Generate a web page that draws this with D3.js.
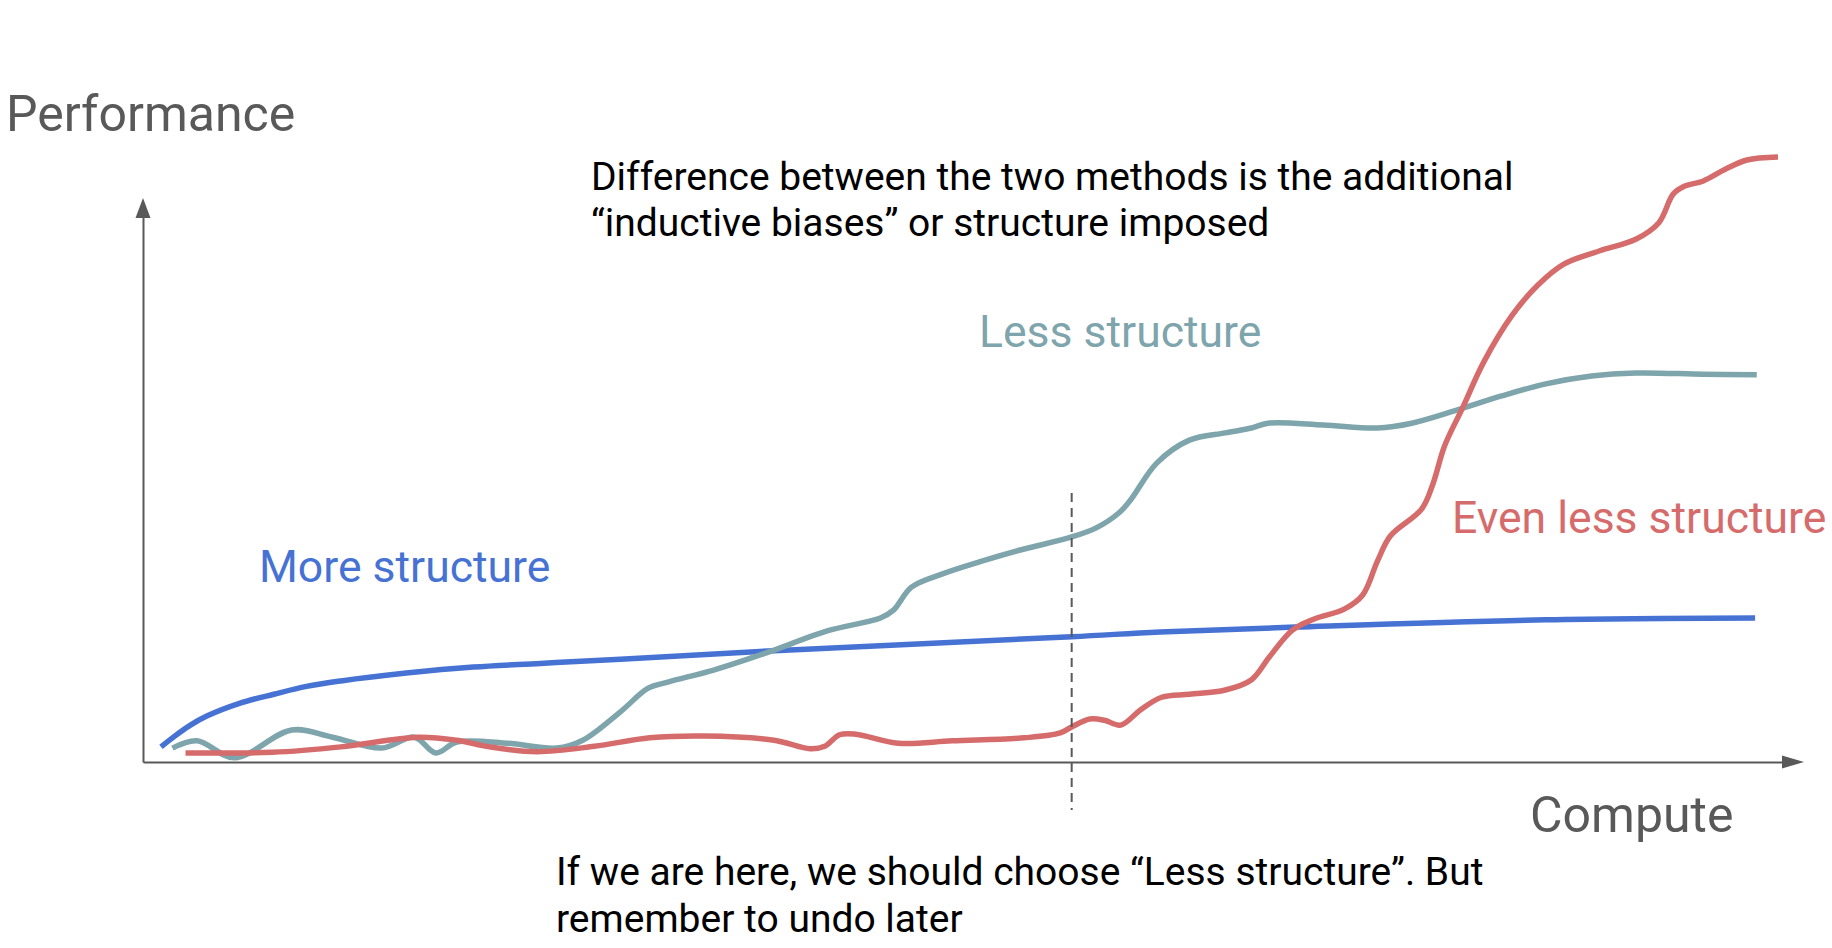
<!DOCTYPE html>
<html lang="en">
  <head>
    <meta charset="utf-8">
    <title>Structure vs compute</title>
    <style>
      body { margin: 0; background: #fff; }
      svg text { font-family: Roboto, "Noto Sans", sans-serif; }
    </style>
    <script src="https://d3js.org/d3.v7.min.js"></script>
  </head>
  <body>

    <div id="viz"></div>

    <script>

    // compute (x, 0-100) vs performance (y, 0-100)
    var moreStructure = [
      [1.1, 2.5], [1.9, 4.2], [2.9, 6.1], [3.9, 7.6], [5.9, 9.7], [8.0, 11.2],
      [10.0, 12.5], [12.1, 13.4], [16.1, 14.7], [20.2, 15.7], [24.3, 16.3],
      [29.2, 17.0], [38.6, 18.4], [56.8, 20.7], [62.2, 21.5], [70.5, 22.3],
      [85.8, 23.5], [98.6, 23.8]
    ];

    var lessStructure = [
      [1.8, 2.3], [3.3, 3.5], [5.6, 0.7], [9.1, 5.3], [11.6, 4.1], [14.6, 2.3],
      [16.6, 4.1], [17.9, 1.5], [19.2, 3.3], [22.3, 3.1], [25.3, 2.3],
      [26.9, 3.6], [29.2, 8.3], [30.9, 12.2], [32.1, 13.2], [34.9, 15.2], [37.2, 17.2],
      [38.6, 18.5], [41.9, 21.7], [45.1, 23.8], [45.9, 25.1], [47.0, 28.9], [48.9, 31.1],
      [51.3, 33.2], [53.6, 35.0], [56.8, 37.2], [58.3, 38.7], [59.7, 41.2], [60.4, 43.3],
      [62.0, 49.4], [64.0, 53.2], [66.2, 54.4], [67.8, 55.2], [68.8, 56.0], [72.2, 55.7],
      [75.5, 55.2], [77.6, 56.0], [80.4, 58.2], [83.1, 60.5], [85.8, 62.5], [88.6, 63.8],
      [91.3, 64.3], [95.4, 64.1], [98.7, 64.0]
    ];

    var evenLessStructure = [
      [2.6, 1.5], [7.9, 1.6], [12.1, 2.5], [16.8, 4.1], [19.2, 3.6],
      [21.2, 2.5], [24.1, 1.7], [27.6, 2.6], [31.0, 4.0], [34.3, 4.3], [38.6, 3.6],
      [40.8, 2.2], [41.7, 2.6], [42.6, 4.5], [43.6, 4.6], [46.2, 3.1], [49.5, 3.5],
      [53.9, 4.0], [56.1, 4.8], [56.8, 5.8], [57.9, 7.1], [58.8, 6.9], [59.8, 6.1],
      [61.0, 8.6], [62.3, 10.7], [64.0, 11.2], [66.2, 11.9], [67.8, 13.6], [68.9, 17.4],
      [70.3, 21.8], [71.6, 23.6], [73.5, 25.3], [74.6, 27.6], [75.5, 33.2], [76.3, 37.4],
      [78.2, 41.8], [78.9, 46.0], [79.6, 52.2], [80.7, 58.5], [82.0, 66.1], [83.7, 73.7],
      [85.3, 78.8], [86.9, 82.3], [89.1, 84.5], [91.3, 86.4], [92.7, 89.1], [93.6, 93.9],
      [94.3, 95.2], [95.4, 96.0], [96.8, 98.0], [98.1, 99.5], [100, 100]
    ];

    var hereCompute = 56.8;   // "if we are here"

    var seriesNames = ['More structure', 'Less structure', 'Even less structure'];
    var seriesColors = ['#4672d4', '#7ea4ac', '#d66b6b'];
    var axisTitles = ['Performance', 'Compute'];
    var topNote = ['Difference between the two methods is the additional',
                   '\u201cinductive biases\u201d or structure imposed'];
    var bottomNote = ['If we are here, we should choose \u201cLess structure\u201d. But',
                      'remember to undo later'];

    var W = 1832, H = 948;
    var axisColor = '#595959';

    var svg = d3.select('#viz')
        .append('svg')
        .attr('width', W)
        .attr('height', H);

    var x = d3.scaleLinear().domain([0, 100]).range([143, 1778]);
    var y = d3.scaleLinear().domain([0, 100]).range([762, 157]);

    // axes run a little past the data and end in arrowheads
    var xEnd = 1784, yEnd = 216;
    var xAxisScale = d3.scaleLinear().domain([0, x.invert(xEnd)]).range([x(0), xEnd]);
    var yAxisScale = d3.scaleLinear().domain([0, y.invert(yEnd)]).range([y(0), yEnd]);

    svg.append('g')
        .attr('transform', 'translate(0,' + y(0) + ')')
        .call(d3.axisBottom(xAxisScale).ticks(0).tickSizeOuter(0));
    svg.append('g')
        .attr('transform', 'translate(' + x(0) + ',0)')
        .call(d3.axisLeft(yAxisScale).ticks(0).tickSizeOuter(0));
    svg.selectAll('.domain')
        .attr('stroke', axisColor)
        .attr('stroke-width', 2);

    svg.append('path')
        .attr('d', 'M' + (xEnd - 2) + ',' + (y(0) - 6.5) + 'L' + (xEnd + 20) + ',' + y(0) +
                   'L' + (xEnd - 2) + ',' + (y(0) + 6.5) + 'Z')
        .attr('fill', axisColor);
    svg.append('path')
        .attr('d', 'M' + (x(0) - 7.5) + ',' + (yEnd + 2) + 'L' + x(0) + ',' + (yEnd - 18) +
                   'L' + (x(0) + 7.5) + ',' + (yEnd + 2) + 'Z')
        .attr('fill', axisColor);

    var line = d3.line()
        .x(function(d) { return x(d[0]); })
        .y(function(d) { return y(d[1]); })
        .curve(d3.curveCatmullRom.alpha(0.5));

    svg.append('g')
      .selectAll('path')
      .data([moreStructure, lessStructure, evenLessStructure])
      .enter()
      .append('path')
        .attr('d', line)
        .attr('fill', 'none')
        .attr('stroke', function(d, i) { return seriesColors[i]; })
        .attr('stroke-width', 5.5)
        .attr('stroke-linecap', 'butt')
        .attr('stroke-linejoin', 'round');

    // dashed "we are here" marker
    svg.append('line')
        .attr('x1', x(hereCompute))
        .attr('x2', x(hereCompute))
        .attr('y1', 493)
        .attr('y2', 810)
        .attr('stroke', axisColor)
        .attr('stroke-width', 2)
        .attr('stroke-dasharray', '9,6');

    // axis titles
    svg.append('text')
        .attr('x', 6).attr('y', 131)
        .attr('font-size', 50)
        .attr('fill', axisColor)
        .text(axisTitles[0]);
    svg.append('text')
        .attr('x', 1530).attr('y', 832)
        .attr('font-size', 50)
        .attr('fill', axisColor)
        .text(axisTitles[1]);

    // series labels
    var labelPos = [[259, 582], [979, 347], [1452, 533]];
    svg.append('g')
      .selectAll('text')
      .data(seriesNames)
      .enter()
      .append('text')
        .attr('x', function(d, i) { return labelPos[i][0]; })
        .attr('y', function(d, i) { return labelPos[i][1]; })
        .attr('font-size', 44.5)
        .attr('fill', function(d, i) { return seriesColors[i]; })
        .text(function(d) { return d; });

    // notes
    svg.append('g')
      .selectAll('text')
      .data(topNote)
      .enter()
      .append('text')
        .attr('x', 591)
        .attr('y', function(d, i) { return 190 + i * 46; })
        .attr('font-size', 39)
        .attr('fill', '#000')
        .text(function(d) { return d; });

    svg.append('g')
      .selectAll('text')
      .data(bottomNote)
      .enter()
      .append('text')
        .attr('x', 556)
        .attr('y', function(d, i) { return 885 + i * 47; })
        .attr('font-size', 39)
        .attr('fill', '#000')
        .text(function(d) { return d; });

    </script>
  </body>
</html>
